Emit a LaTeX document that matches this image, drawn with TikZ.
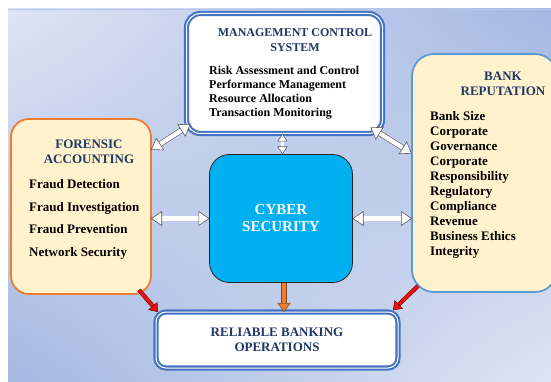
\documentclass[tikz,border=0pt]{standalone}
\usepackage{fontspec}
\setmainfont{Liberation Serif}
\usetikzlibrary{arrows.meta,shadings}
\definecolor{TitleNavy}{HTML}{1F3864}
\definecolor{FrameBlue}{HTML}{4472C4}
\definecolor{FrameSky}{HTML}{5B9BD5}
\definecolor{FrameOrange}{HTML}{ED7D31}
\definecolor{CreamFill}{HTML}{FFF2CC}
\definecolor{CyberBlue}{HTML}{00B0F0}
\definecolor{BgLight}{HTML}{DEE4F4}
\definecolor{BgDark}{HTML}{A3B8E2}
\definecolor{BgLine}{HTML}{B4C6E7}
\definecolor{ArrowRed}{HTML}{E81010}

\tikzset{
  framebox/.style={draw=FrameBlue, double=white, double distance=1pt, line width=2.1pt,
    fill=white, rounded corners=14pt, inner sep=0pt, outer sep=0pt},
  creambox/.style={fill=CreamFill, line width=1.8pt, rounded corners=18pt, inner sep=0pt, outer sep=0pt},
  cyberbox/.style={fill=CyberBlue, draw=black!85, line width=0.8pt, rounded corners=20pt,
    inner sep=0pt, outer sep=0pt, text=white, align=center, font=\bfseries\fontsize{15}{17}\selectfont},
  titletext/.style={text=TitleNavy, align=center, inner sep=0pt},
  itemtext/.style={align=left, inner sep=0pt},
  fat/.style={draw=black!65, line width=0.6pt, double=white, double distance=4.4pt,
    {Triangle[fill=white, line width=0.6pt, length=11pt, width=15pt]}-{Triangle[fill=white, line width=0.6pt, length=11pt, width=15pt]}},
  fatslim/.style={draw=black!65, line width=0.5pt, double=white, double distance=2.6pt,
    {Triangle[fill=white, line width=0.5pt, length=8pt, width=10pt]}-{Triangle[fill=white, line width=0.5pt, length=8pt, width=10pt]}},
  reddown/.style={draw=red!45!black, line width=0.5pt, double=ArrowRed, double distance=3.2pt,
    -{Triangle[fill=ArrowRed, line width=0.5pt, length=8pt, width=12pt]}},
  orangedown/.style={draw=FrameOrange!55!black, line width=0.5pt, double=FrameOrange, double distance=4.6pt,
    -{Triangle[fill=FrameOrange, line width=0.5pt, length=9pt, width=13pt]}}
}

\begin{document}
\begin{tikzpicture}[x=1pt,y=-1pt,font=\bfseries]
  \useasboundingbox (0,0) rectangle (551,382);
  \shade[upper left=BgLight, upper right=BgDark, lower left=BgDark, lower right=BgLight] (8,9) rectangle (551,382);
  \draw[BgLine, line width=1pt] (8,9.5) -- (551,9.5);

  \node[framebox, minimum width=196pt, minimum height=120pt] (mcs) at (284.5,73.5) {};
  \node[creambox, draw=FrameOrange, minimum width=140pt, minimum height=175pt] (fa) at (81,206.5) {};
  \node[creambox, draw=FrameSky, rounded corners=22pt, minimum width=145pt, minimum height=238pt] (br) at (484.5,173) {};
  \node[cyberbox, minimum width=143pt, minimum height=128pt] (cs) at (281,218.5) {CYBER\\SECURITY};
  \node[framebox, rounded corners=10pt, minimum width=242pt, minimum height=56pt, text=TitleNavy, align=center,
    font=\bfseries\fontsize{13}{15}\selectfont] (rbo) at (277,340) {RELIABLE BANKING\\OPERATIONS};

  \node[titletext, font=\bfseries\fontsize{12}{15}\selectfont] (mcstitle) at (295,40.5) {MANAGEMENT CONTROL\\SYSTEM};
  \node[itemtext, anchor=west, font=\bfseries\fontsize{12}{14}\selectfont] (mcsitems) at (209,92.5)
    {Risk Assessment and Control\\Performance Management\\Resource Allocation\\Transaction Monitoring};
  \node[titletext, font=\bfseries\fontsize{13}{15}\selectfont] (fatitle) at (89,152) {FORENSIC\\ACCOUNTING};
  \node[itemtext, anchor=west, font=\bfseries\fontsize{13}{22.7}\selectfont] (faitems) at (29,219.5)
    {Fraud Detection\\Fraud Investigation\\Fraud Prevention\\Network Security};
  \node[titletext, font=\bfseries\fontsize{13}{15}\selectfont] (brtitle) at (503,84) {BANK\\REPUTATION};
  \node[itemtext, anchor=west, font=\bfseries\fontsize{13}{15}\selectfont] (britems) at (430,185)
    {Bank Size\\Corporate\\Governance\\Corporate\\Responsibility\\Regulatory\\Compliance\\Revenue\\Business Ethics\\Integrity};

  \draw[fat] (fa.39) -- ([xshift=4pt,yshift=9pt]mcs.south west);
  \draw[fat] ([xshift=-12pt,yshift=6pt]mcs.south east) -- (br.165);
  \draw[fatslim] ([xshift=-2pt]mcs.south) -- ([xshift=-2pt]mcs.south |- cs.north);
  \draw[fat] (fa.east |- cs.west) -- (cs.west);
  \draw[fat] (cs.east) -- (cs.east -| br.west);

  \draw[reddown] ([xshift=-12pt,yshift=4pt]fa.south east) -- ([xshift=2pt]rbo.north west);
  \draw[reddown] ([xshift=6pt,yshift=6pt]br.south west) -- ([xshift=-5pt,yshift=2pt]rbo.north east);
  \draw[orangedown] ([xshift=3pt]cs.south) -- ([xshift=3pt]cs.south |- rbo.north);
\end{tikzpicture}
\end{document}
